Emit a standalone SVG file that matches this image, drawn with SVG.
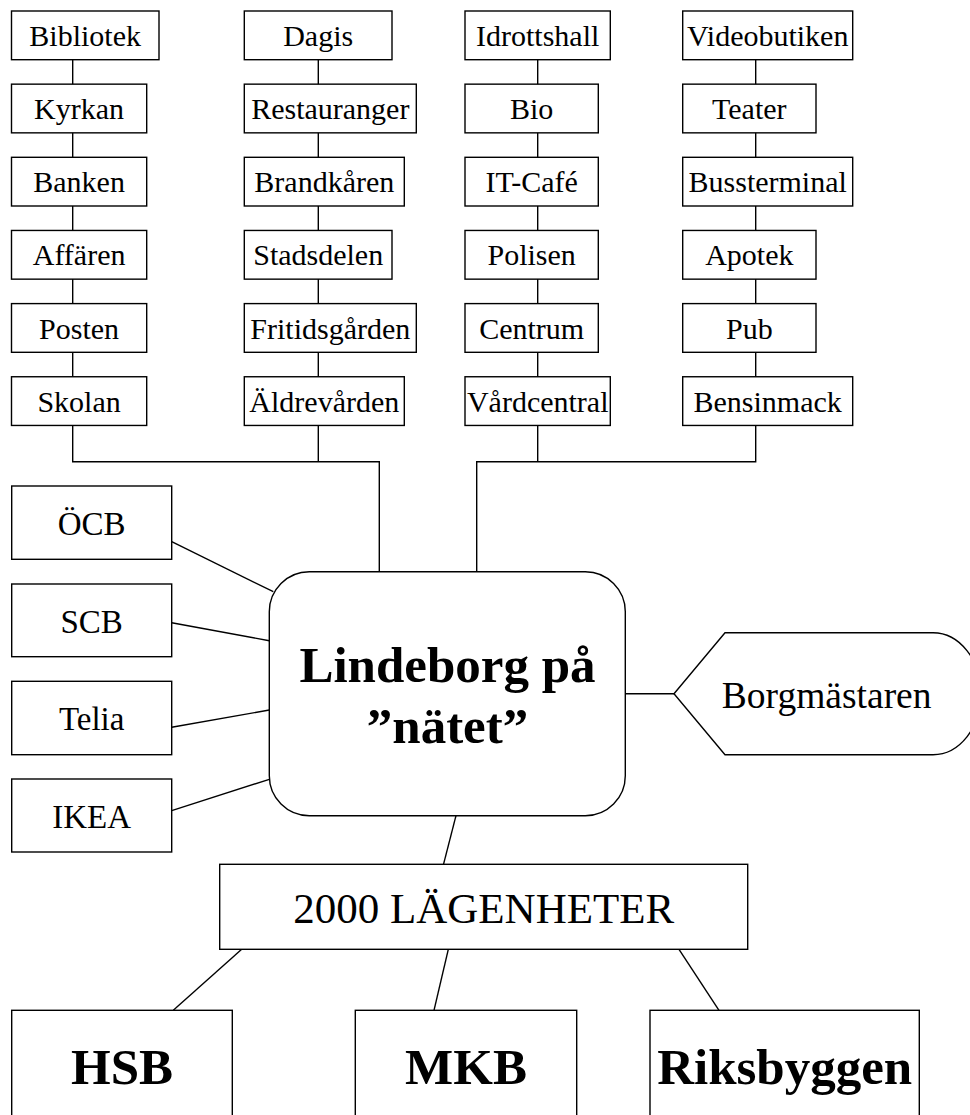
<svg xmlns="http://www.w3.org/2000/svg" width="970" height="1115" viewBox="0 0 970 1115">
<style>
.b{fill:#fff;stroke:#000;stroke-width:1.4}
.c{fill:none;stroke:#000;stroke-width:1.4}
.t{font-family:"Liberation Serif","Times New Roman",serif;font-size:30px;text-anchor:middle;fill:#000}
.m{font-size:33px}
.bd{font-weight:bold;font-size:51px}
</style>
<rect width="970" height="1115" fill="#fff"/>
<g id="connectors">
<path class="c" d="M72.7,59.7V461.7H379.3V571.7"/>
<path class="c" d="M318.3,59.7V461.7"/>
<path class="c" d="M537.7,59.7V461.7"/>
<path class="c" d="M476.7,571.7V461.7H755.7V59.7"/>
<line class="c" x1="171.7" y1="541.7" x2="273.3" y2="591.7"/>
<line class="c" x1="171.7" y1="622.7" x2="269.3" y2="640.7"/>
<line class="c" x1="171.7" y1="727.3" x2="269.3" y2="710"/>
<line class="c" x1="171.7" y1="810.7" x2="269.3" y2="779.3"/>
<line class="c" x1="625.3" y1="693.7" x2="674" y2="693.7"/>
<line class="c" x1="456" y1="815.7" x2="443.5" y2="864.3"/>
<line class="c" x1="241.7" y1="949.3" x2="173.3" y2="1010.3"/>
<line class="c" x1="448.3" y1="949.3" x2="434" y2="1010.3"/>
<line class="c" x1="679" y1="949.3" x2="719" y2="1010.3"/>
</g>
<g id="col1">
<g id="bibliotek"><rect class="b" x="11.5" y="11" width="147.5" height="48.7"/><text class="t" x="85.2" y="46">Bibliotek</text></g>
<g id="kyrkan"><rect class="b" x="11.5" y="84.15" width="135.2" height="48.7"/><text class="t" x="79.1" y="119.15">Kyrkan</text></g>
<g id="banken"><rect class="b" x="11.5" y="157.3" width="135.2" height="48.7"/><text class="t" x="79.1" y="192.3">Banken</text></g>
<g id="affaren"><rect class="b" x="11.5" y="230.45" width="135.2" height="48.7"/><text class="t" x="79.1" y="265.45">Affären</text></g>
<g id="posten"><rect class="b" x="11.5" y="303.6" width="135.2" height="48.7"/><text class="t" x="79.1" y="338.6">Posten</text></g>
<g id="skolan"><rect class="b" x="11.5" y="376.75" width="135.2" height="48.7"/><text class="t" x="79.1" y="411.75">Skolan</text></g>
</g>
<g id="col2">
<g id="dagis"><rect class="b" x="244.3" y="11" width="147.7" height="48.7"/><text class="t" x="318.2" y="46">Dagis</text></g>
<g id="restauranger"><rect class="b" x="244.3" y="84.15" width="172" height="48.7"/><text class="t" x="330.3" y="119.15">Restauranger</text></g>
<g id="brandkaren"><rect class="b" x="244.3" y="157.3" width="160" height="48.7"/><text class="t" x="324.3" y="192.3">Brandkåren</text></g>
<g id="stadsdelen"><rect class="b" x="244.3" y="230.45" width="147.7" height="48.7"/><text class="t" x="318.2" y="265.45">Stadsdelen</text></g>
<g id="fritidsgarden"><rect class="b" x="244.3" y="303.6" width="172" height="48.7"/><text class="t" x="330.3" y="338.6">Fritidsgården</text></g>
<g id="aldrevarden"><rect class="b" x="244.3" y="376.75" width="160" height="48.7"/><text class="t" x="324.3" y="411.75">Äldrevården</text></g>
</g>
<g id="col3">
<g id="idrottshall"><rect class="b" x="465" y="11" width="145.3" height="48.7"/><text class="t" x="537.7" y="46">Idrottshall</text></g>
<g id="bio"><rect class="b" x="465" y="84.15" width="133.3" height="48.7"/><text class="t" x="531.7" y="119.15">Bio</text></g>
<g id="itcafe"><rect class="b" x="465" y="157.3" width="133.3" height="48.7"/><text class="t" x="531.7" y="192.3">IT-Café</text></g>
<g id="polisen"><rect class="b" x="465" y="230.45" width="133.3" height="48.7"/><text class="t" x="531.7" y="265.45">Polisen</text></g>
<g id="centrum"><rect class="b" x="465" y="303.6" width="133.3" height="48.7"/><text class="t" x="531.7" y="338.6">Centrum</text></g>
<g id="vardcentral"><rect class="b" x="465" y="376.75" width="145.3" height="48.7"/><text class="t" x="537.7" y="411.75">Vårdcentral</text></g>
</g>
<g id="col4">
<g id="videobutiken"><rect class="b" x="682.7" y="11" width="170" height="48.7"/><text class="t" x="767.7" y="46">Videobutiken</text></g>
<g id="teater"><rect class="b" x="682.7" y="84.15" width="133.3" height="48.7"/><text class="t" x="749.3" y="119.15">Teater</text></g>
<g id="bussterminal"><rect class="b" x="682.7" y="157.3" width="170" height="48.7"/><text class="t" x="767.7" y="192.3">Bussterminal</text></g>
<g id="apotek"><rect class="b" x="682.7" y="230.45" width="133.3" height="48.7"/><text class="t" x="749.3" y="265.45">Apotek</text></g>
<g id="pub"><rect class="b" x="682.7" y="303.6" width="133.3" height="48.7"/><text class="t" x="749.3" y="338.6">Pub</text></g>
<g id="bensinmack"><rect class="b" x="682.7" y="376.75" width="170" height="48.7"/><text class="t" x="767.7" y="411.75">Bensinmack</text></g>
</g>
<g id="ocb"><rect class="b" x="11.7" y="486" width="160" height="73.3"/><text class="t m" x="91.7" y="535">ÖCB</text></g>
<g id="scb"><rect class="b" x="11.7" y="584" width="160" height="72.7"/><text class="t m" x="91.7" y="632.7">SCB</text></g>
<g id="telia"><rect class="b" x="11.7" y="681.3" width="160" height="73.4"/><text class="t m" x="91.7" y="730">Telia</text></g>
<g id="ikea"><rect class="b" x="11.7" y="779" width="160" height="73"/><text class="t m" x="91.7" y="827.7">IKEA</text></g>
<g id="lindeborg"><rect class="b" x="269.3" y="571.7" width="356" height="244" rx="40" ry="40"/><text class="t bd" x="447.5" y="682.3">Lindeborg på</text><text class="t bd" x="447.5" y="743.3">”nätet”</text></g>
<g id="borgmastaren"><path class="b" d="M674,693.7L725,632.7H933A48,61 0 0 1 933,754.7H725Z"/><text class="t" style="font-size:37.5px" x="826.7" y="708.3">Borgmästaren</text></g>
<g id="lagenheter"><rect class="b" x="219.7" y="864.3" width="528" height="85"/><text class="t" style="font-size:43px" x="483.7" y="922.7">2000 LÄGENHETER</text></g>
<g id="hsb"><rect class="b" x="11.7" y="1010.3" width="220.6" height="130"/><text class="t bd" x="122" y="1084.3">HSB</text></g>
<g id="mkb"><rect class="b" x="355.3" y="1010.3" width="221.4" height="130"/><text class="t bd" x="466" y="1084.3">MKB</text></g>
<g id="riksbyggen"><rect class="b" x="650" y="1010.3" width="269.3" height="130"/><text class="t bd" x="784.7" y="1084.3">Riksbyggen</text></g>
</svg>
